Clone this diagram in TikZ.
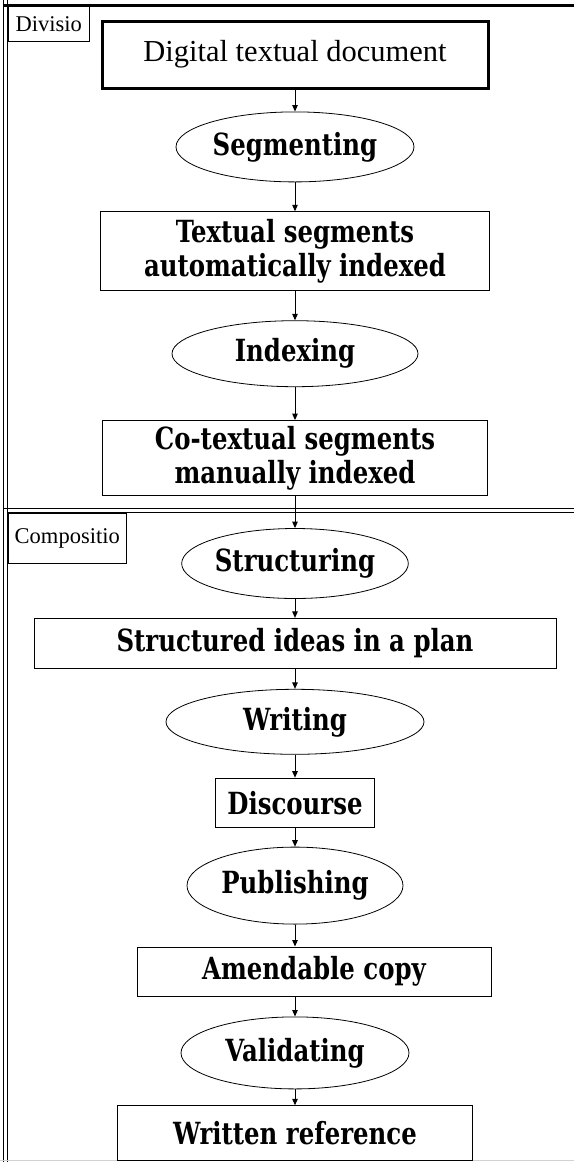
\documentclass[tikz,border=0pt]{standalone}
\usepackage{fontspec}
\setmainfont{Liberation Serif}
\newfontfamily\slabfont{DejaVu Serif}[FakeStretch=0.8]
\usetikzlibrary{positioning}
\usetikzlibrary{arrows.meta, shapes.geometric}

\begin{document}
\begin{tikzpicture}[x=1pt, y=-1pt,
  box/.style = {draw, line width=1pt, inner sep=0pt, align=center, font=\slabfont\bfseries\fontsize{30.5pt}{34pt}\selectfont},
  oval/.style = {draw, ellipse, line width=0.8pt, inner sep=0pt, font=\slabfont\bfseries\fontsize{30.5pt}{34pt}\selectfont},
  tag/.style = {draw, line width=1pt, inner sep=0pt, anchor=north west, font=\fontsize{22.5pt}{26pt}\selectfont},
  >={Triangle[length=6.5pt, width=5.5pt]}]
\useasboundingbox (0,0) rectangle (574,1162);
% frame of the two parts
\draw[line width=1pt] (3.5,0) -- (3.5,1162);
\draw[line width=1pt] (7.5,0) -- (7.5,1162);
\draw[line width=3pt] (3.5,5.5) -- (574,5.5);
\draw[line width=1pt] (3.5,508) -- (574,508);
\draw[line width=1pt] (7.5,512.5) -- (574,512.5);
\draw[gray!35, line width=1.5pt] (0,1160.5) -- (574,1160.5);
\node[tag, minimum width=81.5pt, minimum height=35.5pt] (divlab) at (7.5,5.5) {Divisio};
\node[tag, minimum width=118.5pt, minimum height=50.5pt] (complab) at (7.5,512.5) {Compositio};
% the steps
\node[box, line width=3pt, minimum width=386pt, minimum height=67pt, font=\fontsize{30.5pt}{36pt}\selectfont] (digital) at (295,54.5) {Digital textual document};
\node[oval, minimum width=238pt, minimum height=70pt] (segment) [below=22pt of digital] {Segmenting};
\node[box, minimum width=389pt, minimum height=79pt] (textual) [below=29pt of segment] {Textual segments\\automatically indexed};
\node[oval, minimum width=246pt, minimum height=66pt] (index) [below=29pt of textual] {Indexing};
\node[box, minimum width=385pt, minimum height=75pt] (cotext) [below=33pt of index] {Co-textual segments\\manually indexed};
\node[oval, minimum width=207pt, minimum height=70pt] (struct) [below=32pt of cotext] {Structuring};
\node[box, minimum width=522pt, minimum height=50pt] (plan) [below=19pt of struct] {Structured ideas in a plan};
\node[oval, minimum width=258pt, minimum height=65pt] (write) [below=20pt of plan] {Writing};
\node[box, minimum width=159pt, minimum height=49pt] (disc) [below=23pt of write] {Discourse};
\node[oval, minimum width=216pt, minimum height=77pt] (publish) [below=19pt of disc] {Publishing};
\node[box, minimum width=354pt, minimum height=49pt] (amend) [below=22pt of publish, xshift=19pt] {Amendable copy};
\node[oval, minimum width=228pt, minimum height=72pt] (valid) [below=20pt of amend, xshift=-19pt] {Validating};
\node[box, minimum width=355pt, minimum height=55pt] (written) [below=16pt of valid] {Written reference};
% arrows
\draw[->, line width=1pt] (digital) -- (segment);
\draw[->, line width=1pt] (segment) -- (textual);
\draw[->, line width=1pt] (textual) -- (index);
\draw[->, line width=1pt] (index) -- (cotext);
\draw[->, line width=1pt] (cotext) -- (struct);
\draw[->, line width=1pt] (struct) -- (plan);
\draw[->, line width=1pt] (plan) -- (write);
\draw[->, line width=1pt] (write) -- (disc);
\draw[->, line width=1pt] (disc) -- (publish);
\draw[->, line width=1pt] (publish) -- (publish |- amend.north);
\draw[->, line width=1pt] (amend.south -| publish) -- (valid);
\draw[->, line width=1pt] (valid) -- (written);
\end{tikzpicture}
\end{document}
